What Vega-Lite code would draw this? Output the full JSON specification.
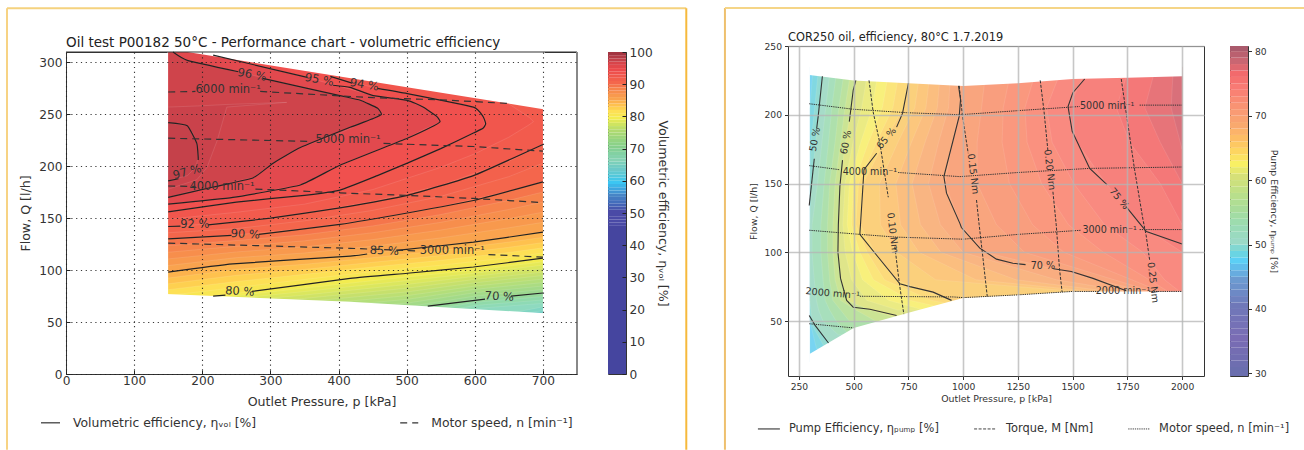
{"$schema":"https://vega.github.io/schema/vega-lite/v6.json","background":"white","padding":{"left":2,"top":3,"right":0,"bottom":0},"bounds":"flush","spacing":722,"resolve":{"scale":{"color":"independent"}},"config":{"font":"DejaVu Sans","view":{"stroke":"#333","strokeWidth":1}},
"datasets":{
"fillL":[{"l":64,"p":150,"q":40},{"l":64,"p":700,"q":40},
{"l":65,"p":150,"q":50},{"l":65,"p":600,"q":50},{"l":65,"p":700,"q":61},
{"l":66,"p":150,"q":50},{"l":66,"p":600,"q":52},{"l":66,"p":700,"q":64.6},
{"l":67,"p":150,"q":50},{"l":67,"p":500,"q":50},{"l":67,"p":600,"q":63},{"l":67,"p":700,"q":68},
{"l":68,"p":150,"q":50},{"l":68,"p":500,"q":54},{"l":68,"p":600,"q":66},{"l":68,"p":700,"q":71.3},
{"l":69,"p":150,"q":50},{"l":69,"p":350,"q":50},{"l":69,"p":500,"q":57.4},{"l":69,"p":600,"q":69},{"l":69,"p":700,"q":74.6},
{"l":70,"p":150,"q":50},{"l":70,"p":350,"q":53},{"l":70,"p":500,"q":61},{"l":70,"p":530,"q":65},{"l":70,"p":600,"q":72},{"l":70,"p":700,"q":78},
{"l":71,"p":150,"q":55},{"l":71,"p":350,"q":56},{"l":71,"p":500,"q":64.6},{"l":71,"p":600,"q":75},{"l":71,"p":700,"q":81.4},
{"l":72,"p":150,"q":55},{"l":72,"p":350,"q":60},{"l":72,"p":500,"q":68.2},{"l":72,"p":600,"q":78.3},{"l":72,"p":700,"q":84.7},
{"l":73,"p":150,"q":58},{"l":73,"p":350,"q":63},{"l":73,"p":500,"q":71.8},{"l":73,"p":600,"q":81.5},{"l":73,"p":700,"q":88},
{"l":74,"p":150,"q":58},{"l":74,"p":350,"q":66},{"l":74,"p":500,"q":75.4},{"l":74,"p":600,"q":84.6},{"l":74,"p":700,"q":91.4},
{"l":75,"p":150,"q":60},{"l":75,"p":350,"q":69.5},{"l":75,"p":500,"q":79},{"l":75,"p":600,"q":87.8},{"l":75,"p":700,"q":94.8},
{"l":76,"p":150,"q":62},{"l":76,"p":350,"q":72.8},{"l":76,"p":500,"q":82.6},{"l":76,"p":600,"q":91},{"l":76,"p":700,"q":98},
{"l":77,"p":150,"q":64},{"l":77,"p":350,"q":76},{"l":77,"p":500,"q":86.2},{"l":77,"p":600,"q":94},{"l":77,"p":700,"q":101.5},
{"l":78,"p":150,"q":66},{"l":78,"p":350,"q":79.4},{"l":78,"p":500,"q":89.8},{"l":78,"p":600,"q":97},{"l":78,"p":700,"q":104.8},
{"l":79,"p":150,"q":68},{"l":79,"p":350,"q":82.7},{"l":79,"p":500,"q":93.4},{"l":79,"p":600,"q":100},{"l":79,"p":700,"q":108},
{"l":80,"p":150,"q":70},{"l":80,"p":250,"q":77.5},{"l":80,"p":350,"q":86},{"l":80,"p":450,"q":94},{"l":80,"p":550,"q":100},{"l":80,"p":650,"q":107},{"l":80,"p":700,"q":111.5},
{"l":81,"p":150,"q":75.6},{"l":81,"p":250,"q":83.3},{"l":81,"p":350,"q":91},{"l":81,"p":450,"q":98.5},{"l":81,"p":550,"q":104.7},{"l":81,"p":650,"q":112},{"l":81,"p":700,"q":116.5},
{"l":82,"p":150,"q":81.2},{"l":82,"p":250,"q":89},{"l":82,"p":350,"q":96},{"l":82,"p":450,"q":103},{"l":82,"p":550,"q":109.4},{"l":82,"p":650,"q":117},{"l":82,"p":700,"q":121.5},
{"l":83,"p":150,"q":86.8},{"l":83,"p":250,"q":95},{"l":83,"p":350,"q":100.7},{"l":83,"p":450,"q":107.5},{"l":83,"p":550,"q":114},{"l":83,"p":650,"q":122},{"l":83,"p":700,"q":126.5},
{"l":84,"p":150,"q":92.4},{"l":84,"p":250,"q":100.7},{"l":84,"p":350,"q":105.6},{"l":84,"p":450,"q":112},{"l":84,"p":550,"q":118.8},{"l":84,"p":650,"q":127},{"l":84,"p":700,"q":131.5},
{"l":85,"p":150,"q":98},{"l":85,"p":250,"q":106.5},{"l":85,"p":350,"q":110.6},{"l":85,"p":450,"q":116.4},{"l":85,"p":550,"q":123.5},{"l":85,"p":650,"q":132},{"l":85,"p":700,"q":136.5},
{"l":86,"p":150,"q":104.4},{"l":86,"p":250,"q":112},{"l":86,"p":350,"q":116.5},{"l":86,"p":450,"q":123},{"l":86,"p":550,"q":131},{"l":86,"p":650,"q":140.8},{"l":86,"p":700,"q":146},
{"l":87,"p":150,"q":110.8},{"l":87,"p":250,"q":117.5},{"l":87,"p":350,"q":122.4},{"l":87,"p":450,"q":129.4},{"l":87,"p":550,"q":138.6},{"l":87,"p":650,"q":149.6},{"l":87,"p":700,"q":155.8},
{"l":88,"p":150,"q":117.2},{"l":88,"p":250,"q":123},{"l":88,"p":350,"q":128.2},{"l":88,"p":450,"q":136},{"l":88,"p":550,"q":146},{"l":88,"p":650,"q":158.4},{"l":88,"p":700,"q":165.5},
{"l":89,"p":150,"q":123.6},{"l":89,"p":250,"q":128.5},{"l":89,"p":350,"q":134},{"l":89,"p":450,"q":142.5},{"l":89,"p":550,"q":153.5},{"l":89,"p":650,"q":167.2},{"l":89,"p":700,"q":175.2},
{"l":90,"p":150,"q":130},{"l":90,"p":250,"q":134},{"l":90,"p":350,"q":140},{"l":90,"p":450,"q":149},{"l":90,"p":550,"q":161},{"l":90,"p":650,"q":176},{"l":90,"p":700,"q":185},
{"l":91,"p":150,"q":136},{"l":91,"p":250,"q":140},{"l":91,"p":350,"q":147.5},{"l":91,"p":450,"q":157.5},{"l":91,"p":550,"q":171},{"l":91,"p":650,"q":190},{"l":91,"p":700,"q":203},
{"l":92,"p":150,"q":142},{"l":92,"p":250,"q":146},{"l":92,"p":350,"q":155},{"l":92,"p":450,"q":166},{"l":92,"p":550,"q":181.5},{"l":92,"p":650,"q":205},{"l":92,"p":700,"q":221}],
"lensL":[{"l":93,"p":150,"q":149,"hi":320},{"l":93,"p":250,"q":155.7,"hi":320},{"l":93,"p":350,"q":163.5,"hi":320},{"l":93,"p":450,"q":177.5,"hi":320},{"l":93,"p":550,"q":199,"hi":320},{"l":93,"p":600,"q":212,"hi":285},{"l":93,"p":650,"q":228,"hi":260},{"l":93,"p":680,"q":240,"hi":247},{"l":93,"p":686,"q":243,"hi":243},
{"l":94,"p":150,"q":156,"hi":320},{"l":94,"p":250,"q":165.5,"hi":320},{"l":94,"p":350,"q":172,"hi":320},{"l":94,"p":385,"q":174.5,"hi":288},{"l":94,"p":402,"q":177,"hi":284},{"l":94,"p":457,"q":191,"hi":275},{"l":94,"p":501,"q":203,"hi":270},{"l":94,"p":550,"q":217,"hi":264},{"l":94,"p":598,"q":232,"hi":257},{"l":94,"p":612,"q":236.5,"hi":248},{"l":94,"p":614.5,"q":241,"hi":241},
{"l":95,"p":150,"q":163.5,"hi":320},{"l":95,"p":216,"q":168,"hi":307},{"l":95,"p":245,"q":170,"hi":303},{"l":95,"p":344,"q":182,"hi":287},{"l":95,"p":402,"q":201,"hi":277},{"l":95,"p":451,"q":214,"hi":268},{"l":95,"p":501,"q":227,"hi":263.5},{"l":95,"p":524,"q":235,"hi":257},{"l":95,"p":545,"q":241,"hi":247},{"l":95,"p":548,"q":243,"hi":243},
{"l":96,"p":150,"q":170,"hi":320},{"l":96,"p":157,"q":171,"hi":310},{"l":96,"p":178,"q":175,"hi":302},{"l":96,"p":216,"q":180,"hi":296},{"l":96,"p":253,"q":186,"hi":291},{"l":96,"p":275,"q":189,"hi":287.5},{"l":96,"p":304,"q":203,"hi":282.5},{"l":96,"p":344,"q":218,"hi":276},{"l":96,"p":402,"q":232,"hi":268},{"l":96,"p":432,"q":241,"hi":263.5},{"l":96,"p":451,"q":246,"hi":258.5},{"l":96,"p":457,"q":248,"hi":256},{"l":96,"p":463,"q":250,"hi":250},
{"l":96.5,"p":150,"q":178,"hi":257},{"l":96.5,"p":192,"q":187,"hi":258},{"l":96.5,"p":207,"q":199,"hi":258.5},{"l":96.5,"p":222,"q":225,"hi":259},{"l":96.5,"p":236,"q":257,"hi":259.5},{"l":96.5,"p":324,"q":261.5,"hi":261.5},
{"l":97,"p":150,"q":186,"hi":242},{"l":97,"p":178,"q":191,"hi":239},{"l":97,"p":186,"q":196,"hi":232},{"l":97,"p":192,"q":203,"hi":222},{"l":97,"p":194,"q":209,"hi":209}],
"contL":[{"s":"70a","p":531,"q":65.4},{"s":"70a","p":615,"q":72},{"s":"70b","p":653,"q":75},{"s":"70b","p":700,"q":78},
{"s":"80a","p":216,"q":75},{"s":"80a","p":234,"q":76},{"s":"80b","p":273,"q":79.5},{"s":"80b","p":417,"q":92},{"s":"80b","p":501,"q":97},{"s":"80b","p":598,"q":103},{"s":"80b","p":700,"q":111.5},
{"s":"85a","p":150,"q":98},{"s":"85a","p":245,"q":106},{"s":"85a","p":417,"q":113.5},{"s":"85a","p":442,"q":115.5},{"s":"85b","p":486,"q":119},{"s":"85b","p":598,"q":127},{"s":"85b","p":700,"q":136.5},
{"s":"90a","p":150,"q":130},{"s":"90a","p":243,"q":133.5},{"s":"90b","p":283,"q":134.5},{"s":"90b","p":402,"q":144},{"s":"90b","p":501,"q":155},{"s":"90b","p":598,"q":167},{"s":"90b","p":700,"q":185},
{"s":"92a","p":150,"q":142},{"s":"92a","p":168,"q":142.3},{"s":"92b","p":208,"q":143.5},{"s":"92b","p":300,"q":150},{"s":"92b","p":402,"q":160},{"s":"92b","p":501,"q":172},{"s":"92b","p":598,"q":191},{"s":"92b","p":700,"q":221},
{"s":"94a","p":150,"q":156},{"s":"94a","p":250,"q":165.5},{"s":"94a","p":350,"q":172},{"s":"94a","p":402,"q":177},{"s":"94a","p":457,"q":191},{"s":"94a","p":501,"q":203},{"s":"94a","p":550,"q":217},{"s":"94a","p":598,"q":232},{"s":"94a","p":612,"q":236.5},{"s":"94a","p":616,"q":241},{"s":"94a","p":612,"q":248},{"s":"94a","p":598,"q":257},{"s":"94a","p":501,"q":270},{"s":"94a","p":457,"q":275},{"s":"94b","p":420,"q":280},{"s":"94b","p":388,"q":286.5},
{"s":"95a","p":150,"q":163.5},{"s":"95a","p":245,"q":170},{"s":"95a","p":344,"q":182},{"s":"95a","p":402,"q":201},{"s":"95a","p":501,"q":227},{"s":"95a","p":540,"q":239},{"s":"95a","p":549,"q":243},{"s":"95a","p":544,"q":248},{"s":"95a","p":524,"q":257},{"s":"95a","p":501,"q":263.5},{"s":"95a","p":451,"q":268},{"s":"95a","p":417,"q":276},{"s":"95a","p":392,"q":278},{"s":"95b","p":354,"q":285.6},{"s":"95b","p":216,"q":307},
{"s":"96a","p":150,"q":170},{"s":"96a","p":216,"q":180},{"s":"96a","p":275,"q":189},{"s":"96a","p":304,"q":203},{"s":"96a","p":344,"q":218},{"s":"96a","p":417,"q":237.5},{"s":"96a","p":451,"q":246},{"s":"96a","p":463,"q":250},{"s":"96a","p":457,"q":256},{"s":"96a","p":432,"q":263.5},{"s":"96a","p":402,"q":268},{"s":"96a","p":289,"q":284.6},{"s":"96b","p":253,"q":291},{"s":"96b","p":178,"q":302},{"s":"96b","p":157,"q":310},
{"s":"97a","p":150,"q":186},{"s":"97a","p":165,"q":188},{"s":"97b","p":194,"q":206},{"s":"97b","p":194,"q":209},{"s":"97b","p":192,"q":222},{"s":"97b","p":178,"q":239},{"s":"97b","p":150,"q":242}],
"speedL":[{"s":"6a","p":150,"q":271.5},{"s":"6a","p":190,"q":272},{"s":"6b","p":285,"q":272},{"s":"6b","p":451,"q":266},{"s":"6b","p":549,"q":264},{"s":"6b","p":648,"q":260.5},
{"s":"5a","p":150,"q":227},{"s":"5a","p":355,"q":224},{"s":"5b","p":466,"q":222},{"s":"5b","p":598,"q":219},{"s":"5b","p":700,"q":214.5},
{"s":"4a","p":150,"q":181},{"s":"4a","p":190,"q":180.5},{"s":"4b","p":278,"q":178},{"s":"4b","p":417,"q":174},{"s":"4b","p":501,"q":172},{"s":"4b","p":598,"q":169},{"s":"4b","p":700,"q":165},
{"s":"3a","p":150,"q":126},{"s":"3a","p":417,"q":121},{"s":"3a","p":515,"q":118.5},{"s":"3b","p":620,"q":115},{"s":"3b","p":700,"q":112.5}],
"fillR":[{"l":47,"p":300,"q":20},{"l":47,"p":300,"q":235},
{"l":48,"p":330,"q":30},{"l":48,"p":300,"q":50},{"l":48,"p":300,"q":205},{"l":48,"p":315,"q":235},
{"l":49,"p":370,"q":30},{"l":49,"p":300,"q":50},{"l":49,"p":300,"q":150},{"l":49,"p":305,"q":180},{"l":49,"p":322,"q":205},{"l":49,"p":340,"q":235},
{"l":50,"p":410,"q":30},{"l":50,"p":310,"q":50},{"l":50,"p":300,"q":65},{"l":50,"p":300,"q":120},{"l":50,"p":307,"q":150},{"l":50,"p":327,"q":180},{"l":50,"p":342,"q":205},{"l":50,"p":362,"q":235},
{"l":52,"p":430,"q":40},{"l":52,"p":360,"q":50},{"l":52,"p":340,"q":58},{"l":52,"p":330,"q":65},{"l":52,"p":320,"q":80},{"l":52,"p":310,"q":100},{"l":52,"p":310,"q":120},{"l":52,"p":335,"q":150},{"l":52,"p":355,"q":180},{"l":52,"p":372,"q":205},{"l":52,"p":395,"q":235},
{"l":54,"p":480,"q":40},{"l":54,"p":420,"q":50},{"l":54,"p":390,"q":58},{"l":54,"p":370,"q":65},{"l":54,"p":360,"q":80},{"l":54,"p":350,"q":100},{"l":54,"p":350,"q":120},{"l":54,"p":365,"q":150},{"l":54,"p":385,"q":180},{"l":54,"p":400,"q":205},{"l":54,"p":425,"q":235},
{"l":56,"p":480,"q":50},{"l":56,"p":440,"q":58},{"l":56,"p":405,"q":65},{"l":56,"p":390,"q":80},{"l":56,"p":380,"q":100},{"l":56,"p":380,"q":120},{"l":56,"p":390,"q":150},{"l":56,"p":415,"q":180},{"l":56,"p":432,"q":205},{"l":56,"p":460,"q":235},
{"l":58,"p":600,"q":50},{"l":58,"p":510,"q":58},{"l":58,"p":440,"q":65},{"l":58,"p":415,"q":80},{"l":58,"p":405,"q":100},{"l":58,"p":405,"q":120},{"l":58,"p":415,"q":150},{"l":58,"p":440,"q":180},{"l":58,"p":460,"q":205},{"l":58,"p":490,"q":235},
{"l":60,"p":750,"q":50},{"l":60,"p":574,"q":58},{"l":60,"p":468,"q":65},{"l":60,"p":441,"q":80},{"l":60,"p":428,"q":100},{"l":60,"p":430,"q":120},{"l":60,"p":438,"q":150},{"l":60,"p":462,"q":180},{"l":60,"p":488,"q":205},{"l":60,"p":520,"q":235},
{"l":61,"p":700,"q":58},{"l":61,"p":560,"q":65},{"l":61,"p":490,"q":80},{"l":61,"p":461,"q":100},{"l":61,"p":450,"q":120},{"l":61,"p":460,"q":150},{"l":61,"p":497,"q":180},{"l":61,"p":536,"q":205},{"l":61,"p":568,"q":235},
{"l":62,"p":820,"q":58},{"l":62,"p":660,"q":65},{"l":62,"p":540,"q":80},{"l":62,"p":495,"q":100},{"l":62,"p":470,"q":120},{"l":62,"p":480,"q":150},{"l":62,"p":532,"q":180},{"l":62,"p":584,"q":205},{"l":62,"p":616,"q":235},
{"l":63,"p":950,"q":58},{"l":63,"p":760,"q":65},{"l":63,"p":590,"q":80},{"l":63,"p":528,"q":100},{"l":63,"p":490,"q":120},{"l":63,"p":500,"q":150},{"l":63,"p":568,"q":180},{"l":63,"p":631,"q":205},{"l":63,"p":664,"q":235},
{"l":64,"p":1080,"q":58},{"l":64,"p":855,"q":65},{"l":64,"p":640,"q":80},{"l":64,"p":562,"q":100},{"l":64,"p":510,"q":120},{"l":64,"p":522,"q":150},{"l":64,"p":604,"q":180},{"l":64,"p":679,"q":205},{"l":64,"p":712,"q":235},
{"l":65,"p":1200,"q":58},{"l":65,"p":947,"q":65},{"l":65,"p":690,"q":80},{"l":65,"p":596,"q":100},{"l":65,"p":531,"q":120},{"l":65,"p":543,"q":150},{"l":65,"p":640,"q":180},{"l":65,"p":727,"q":205},{"l":65,"p":760,"q":235},
{"l":66,"p":2000,"q":65},{"l":66,"p":874,"q":80},{"l":66,"p":697,"q":100},{"l":66,"p":622,"q":120},{"l":66,"p":618,"q":150},{"l":66,"p":702,"q":180},{"l":66,"p":779,"q":205},{"l":66,"p":806,"q":235},
{"l":67,"p":2000,"q":65},{"l":67,"p":1058,"q":80},{"l":67,"p":798,"q":100},{"l":67,"p":714,"q":120},{"l":67,"p":693,"q":150},{"l":67,"p":764,"q":180},{"l":67,"p":830,"q":205},{"l":67,"p":852,"q":235},
{"l":68,"p":2000,"q":65},{"l":68,"p":1242,"q":80},{"l":68,"p":898,"q":100},{"l":68,"p":805,"q":120},{"l":68,"p":767,"q":150},{"l":68,"p":826,"q":180},{"l":68,"p":882,"q":205},{"l":68,"p":898,"q":235},
{"l":69,"p":2000,"q":65},{"l":69,"p":1426,"q":80},{"l":69,"p":999,"q":100},{"l":69,"p":896,"q":120},{"l":69,"p":842,"q":150},{"l":69,"p":888,"q":180},{"l":69,"p":933,"q":205},{"l":69,"p":944,"q":235},
{"l":70,"p":2000,"q":65},{"l":70,"p":1610,"q":80},{"l":70,"p":1100,"q":100},{"l":70,"p":988,"q":120},{"l":70,"p":917,"q":150},{"l":70,"p":950,"q":180},{"l":70,"p":985,"q":205},{"l":70,"p":990,"q":235},
{"l":71,"p":2000,"q":65},{"l":71,"p":1690,"q":80},{"l":71,"p":1280,"q":100},{"l":71,"p":1152,"q":120},{"l":71,"p":1064,"q":150},{"l":71,"p":1064,"q":180},{"l":71,"p":1084,"q":205},{"l":71,"p":1106,"q":235},
{"l":72,"p":2000,"q":65},{"l":72,"p":1770,"q":80},{"l":72,"p":1460,"q":100},{"l":72,"p":1317,"q":120},{"l":72,"p":1211,"q":150},{"l":72,"p":1178,"q":180},{"l":72,"p":1183,"q":205},{"l":72,"p":1222,"q":235},
{"l":73,"p":2000,"q":65},{"l":73,"p":1850,"q":80},{"l":73,"p":1640,"q":100},{"l":73,"p":1481,"q":120},{"l":73,"p":1358,"q":150},{"l":73,"p":1292,"q":180},{"l":73,"p":1282,"q":205},{"l":73,"p":1338,"q":235},
{"l":74,"p":2000,"q":70},{"l":74,"p":1920,"q":80},{"l":74,"p":1820,"q":100},{"l":74,"p":1646,"q":120},{"l":74,"p":1505,"q":150},{"l":74,"p":1406,"q":180},{"l":74,"p":1381,"q":205},{"l":74,"p":1454,"q":235},
{"l":75,"p":2000,"q":100},{"l":75,"p":1810,"q":120},{"l":75,"p":1652,"q":150},{"l":75,"p":1520,"q":180},{"l":75,"p":1480,"q":205},{"l":75,"p":1570,"q":235},
{"l":76,"p":2000,"q":120},{"l":76,"p":1900,"q":150},{"l":76,"p":1760,"q":180},{"l":76,"p":1700,"q":205},{"l":76,"p":1760,"q":235},
{"l":77,"p":2000,"q":150},{"l":77,"p":1900,"q":180},{"l":77,"p":1830,"q":205},{"l":77,"p":1880,"q":235},
{"l":78,"p":2000,"q":175},{"l":78,"p":1950,"q":205},{"l":78,"p":1960,"q":235}],
"contR":[{"s":"50a","p":357,"q":228},{"s":"50a","p":338,"q":199},{"s":"50a","p":331,"q":190},{"s":"50b","p":320,"q":168},{"s":"50b","p":297,"q":134},{"s":"50c","p":297,"q":54},{"s":"50c","p":323,"q":47},{"s":"50c","p":385,"q":34},
{"s":"60a","p":510,"q":225},{"s":"60a","p":498,"q":218},{"s":"60a","p":480,"q":195},{"s":"60b","p":449,"q":167},{"s":"60b","p":437,"q":148},{"s":"60b","p":430,"q":120},{"s":"60b","p":428,"q":100},{"s":"60b","p":440,"q":81},{"s":"60b","p":468,"q":65},{"s":"60b","p":498,"q":60},{"s":"60b","p":574,"q":58.5},{"s":"60b","p":696,"q":54},
{"s":"65a","p":750,"q":223},{"s":"65a","p":723,"q":201},{"s":"65a","p":696,"q":191},{"s":"65b","p":605,"q":172},{"s":"65b","p":547,"q":160},{"s":"65b","p":531,"q":120},{"s":"65b","p":528,"q":113},{"s":"65b","p":604,"q":98},{"s":"65b","p":711,"q":77},{"s":"65b","p":757,"q":75},{"s":"65b","p":863,"q":71},{"s":"65b","p":947,"q":65},
{"s":"70a","p":979,"q":221},{"s":"70a","p":988,"q":211},{"s":"70a","p":982,"q":199},{"s":"70a","p":955,"q":182},{"s":"70a","p":912,"q":155},{"s":"70a","p":924,"q":143},{"s":"70a","p":985,"q":121},{"s":"70a","p":992,"q":118},{"s":"70a","p":1076,"q":103},{"s":"70a","p":1152,"q":95},{"s":"70a","p":1227,"q":92},{"s":"70a","p":1285,"q":91},{"s":"70b","p":1412,"q":88},{"s":"70b","p":1494,"q":86},{"s":"70b","p":1593,"q":81},{"s":"70b","p":1745,"q":72},
{"s":"75a","p":1555,"q":226},{"s":"75a","p":1501,"q":216},{"s":"75a","p":1479,"q":206},{"s":"75a","p":1498,"q":188},{"s":"75a","p":1578,"q":161},{"s":"75a","p":1658,"q":149},{"s":"75b","p":1745,"q":133},{"s":"75b","p":1806,"q":121},{"s":"75b","p":1837,"q":115},{"s":"75b","p":2000,"q":106}],
"torqueR":[{"s":"10a","p":570,"q":225},{"s":"10a","p":589,"q":202},{"s":"10a","p":620,"q":179},{"s":"10a","p":658,"q":140},{"s":"10b","p":688,"q":104},{"s":"10b","p":708,"q":78},{"s":"10b","p":729,"q":55},
{"s":"15a","p":982,"q":221},{"s":"15a","p":997,"q":199},{"s":"15a","p":1023,"q":172},{"s":"15b","p":1061,"q":138},{"s":"15b","p":1073,"q":120},{"s":"15b","p":1091,"q":95},{"s":"15b","p":1110,"q":68},
{"s":"20a","p":1352,"q":225},{"s":"20a","p":1369,"q":203},{"s":"20a","p":1387,"q":174},{"s":"20b","p":1410,"q":144},{"s":"20b","p":1425,"q":120},{"s":"20b","p":1440,"q":88},{"s":"20b","p":1452,"q":71},
{"s":"25a","p":1722,"q":226},{"s":"25a","p":1745,"q":201},{"s":"25a","p":1783,"q":160},{"s":"25a","p":1821,"q":124},{"s":"25a","p":1836,"q":112},{"s":"25a","p":1852,"q":94}],
"speedR":[{"s":"5a","p":297,"q":208},{"s":"5a","p":498,"q":204},{"s":"5a","p":742,"q":201.5},{"s":"5a","p":985,"q":200},{"s":"5a","p":1251,"q":203},{"s":"5a","p":1532,"q":206},{"s":"5b","p":1806,"q":207},{"s":"5b","p":2000,"q":207},
{"s":"4a","p":297,"q":163},{"s":"4a","p":437,"q":160},{"s":"4b","p":703,"q":158},{"s":"4b","p":985,"q":155},{"s":"4b","p":1251,"q":158},{"s":"4b","p":1578,"q":161},{"s":"4b","p":2000,"q":162},
{"s":"3a","p":297,"q":116},{"s":"3a","p":528,"q":113},{"s":"3a","p":696,"q":111},{"s":"3a","p":1000,"q":109.5},{"s":"3a","p":1251,"q":113},{"s":"3a","p":1540,"q":116},{"s":"3b","p":1806,"q":116.5},{"s":"3b","p":2000,"q":116.5},
{"s":"2a","p":528,"q":68},{"s":"2a","p":955,"q":67.5},{"s":"2a","p":1000,"q":67},{"s":"2a","p":1250,"q":69},{"s":"2a","p":1500,"q":71.5},{"s":"2a","p":1620,"q":71.5},{"s":"2b","p":1850,"q":71.5},{"s":"2b","p":2000,"q":71.5},
{"s":"1a","p":297,"q":48},{"s":"1a","p":498,"q":45}],
"barL":[{"v":0,"v2":46},{"v":46,"v2":47},{"v":47,"v2":48},{"v":48,"v2":49},{"v":49,"v2":50},{"v":50,"v2":51},{"v":51,"v2":52},{"v":52,"v2":53},{"v":53,"v2":54},{"v":54,"v2":55},{"v":55,"v2":56},{"v":56,"v2":57},{"v":57,"v2":58},{"v":58,"v2":59},{"v":59,"v2":60},{"v":60,"v2":61},{"v":61,"v2":62},{"v":62,"v2":63},{"v":63,"v2":64},{"v":64,"v2":65},{"v":65,"v2":66},{"v":66,"v2":67},{"v":67,"v2":68},{"v":68,"v2":69},{"v":69,"v2":70},{"v":70,"v2":71},{"v":71,"v2":72},{"v":72,"v2":73},{"v":73,"v2":74},{"v":74,"v2":75},{"v":75,"v2":76},{"v":76,"v2":77},{"v":77,"v2":78},{"v":78,"v2":79},{"v":79,"v2":80},{"v":80,"v2":81},{"v":81,"v2":82},{"v":82,"v2":83},{"v":83,"v2":84},{"v":84,"v2":85},{"v":85,"v2":86},{"v":86,"v2":87},{"v":87,"v2":88},{"v":88,"v2":89},{"v":89,"v2":90},{"v":90,"v2":91},{"v":91,"v2":92},{"v":92,"v2":93},{"v":93,"v2":94},{"v":94,"v2":95},{"v":95,"v2":96},{"v":96,"v2":97},{"v":97,"v2":98},{"v":98,"v2":99},{"v":99,"v2":100}],
"barR":[{"v":29.6,"v2":31},{"v":31,"v2":32},{"v":32,"v2":33},{"v":33,"v2":34},{"v":34,"v2":35},{"v":35,"v2":36},{"v":36,"v2":37},{"v":37,"v2":38},{"v":38,"v2":39},{"v":39,"v2":40},{"v":40,"v2":41},{"v":41,"v2":42},{"v":42,"v2":43},{"v":43,"v2":44},{"v":44,"v2":45},{"v":45,"v2":46},{"v":46,"v2":47},{"v":47,"v2":48},{"v":48,"v2":49},{"v":49,"v2":50},{"v":50,"v2":51},{"v":51,"v2":52},{"v":52,"v2":53},{"v":53,"v2":54},{"v":54,"v2":55},{"v":55,"v2":56},{"v":56,"v2":57},{"v":57,"v2":58},{"v":58,"v2":59},{"v":59,"v2":60},{"v":60,"v2":61},{"v":61,"v2":62},{"v":62,"v2":63},{"v":63,"v2":64},{"v":64,"v2":65},{"v":65,"v2":66},{"v":66,"v2":67},{"v":67,"v2":68},{"v":68,"v2":69},{"v":69,"v2":70},{"v":70,"v2":71},{"v":71,"v2":72},{"v":72,"v2":73},{"v":73,"v2":74},{"v":74,"v2":75},{"v":75,"v2":76},{"v":76,"v2":77},{"v":77,"v2":78},{"v":78,"v2":79},{"v":79,"v2":80},{"v":80,"v2":80.8}]
},
"hconcat":[
{"bounds":"flush","spacing":0,"vconcat":[
{"width":560,"height":6,"view":{"stroke":null},"data":{"values":[{}]},"mark":{"type":"point","opacity":0},"encoding":{}},
{"bounds":"flush","spacing":31,"resolve":{"scale":{"color":"independent"}},"hconcat":[
{"width":511,"height":322,
"encoding":{"x":{"field":"p","type":"quantitative","scale":{"domain":[0,750],"nice":false},"axis":{"values":[0,100,200,300,400,500,600,700],"title":"Outlet Pressure, p [kPa]","titleFontSize":12.6,"titleFontWeight":"normal","titleColor":"#333","titlePadding":9,"labelFontSize":12.2,"labelColor":"#333","labelPadding":4,"labelFlush":false,"tickSize":-4,"tickColor":"#222","domain":false,"grid":true,"gridColor":"#222","gridDash":[1.2,3.6],"gridWidth":1.1,"gridOpacity":0.9,"zindex":1}},
"y":{"field":"q","type":"quantitative","scale":{"domain":[0,310],"nice":false},"axis":{"values":[0,50,100,150,200,250,300],"title":"Flow, Q [l/h]","titleFontSize":12.6,"titleFontWeight":"normal","titleColor":"#333","titlePadding":6,"labelFontSize":12.2,"labelColor":"#333","labelPadding":8,"tickSize":-4,"tickColor":"#222","domain":false,"grid":true,"gridColor":"#222","gridDash":[1.2,3.6],"gridWidth":1.1,"gridOpacity":0.9,"zindex":1}}},
"layer":[
{"data":{"name":"fillL"},"mark":{"type":"area","clip":true,"stroke":"white","strokeOpacity":0.22,"strokeWidth":0.5},"encoding":{"y2":{"datum":320},"detail":{"field":"l"},"color":{"field":"l","type":"quantitative","legend":null,"scale":{"domain":[0,50,55,59,63,66,70,75,79,81,85,88,90,94,95,96,97,100],"range":["#45459f","#4a4aa6","#4785c6","#3cc6f2","#6cc9c9","#8edabf","#9dd88f","#c6e06c","#f2ec50","#fde055","#f9a34e","#f6844c","#f4664c","#f0504e","#e2494e","#cf444b","#c5414a","#93303c"]}}}},
{"data":{"name":"lensL"},"mark":{"type":"area","clip":true,"stroke":"white","strokeOpacity":0.22,"strokeWidth":0.5},"encoding":{"y2":{"field":"hi"},"detail":{"field":"l"},"color":{"field":"l","type":"quantitative","legend":null,"scale":{"domain":[0,50,55,59,63,66,70,75,79,81,85,88,90,94,95,96,97,100],"range":["#45459f","#4a4aa6","#4785c6","#3cc6f2","#6cc9c9","#8edabf","#9dd88f","#c6e06c","#f2ec50","#fde055","#f9a34e","#f6844c","#f4664c","#f0504e","#e2494e","#cf444b","#c5414a","#93303c"]}}}},
{"data":{"values":[{"p":147,"q":313.3},{"p":703,"q":254.7}]},"mark":{"type":"area","fill":"white","clip":true},"encoding":{"y2":{"datum":330}}},
{"data":{"values":[{"p":147,"q":77},{"p":417,"q":69.5},{"p":703,"q":58.5}]},"mark":{"type":"area","fill":"white","clip":true},"encoding":{"y2":{"datum":30}}},
{"data":{"values":[{"p":0,"q":310},{"p":750,"q":310}]},"mark":{"type":"line","stroke":"#333","strokeWidth":1}},
{"data":{"name":"contL"},"mark":{"type":"line","stroke":"#222","strokeWidth":1.2,"interpolate":"cardinal","tension":0.6},"encoding":{"detail":{"field":"s"},"order":{"value":null}}},
{"data":{"name":"speedL"},"mark":{"type":"line","stroke":"#333","strokeWidth":1.2,"strokeDash":[7,5]},"encoding":{"detail":{"field":"s"}}},
{"data":{"values":[{"label":"6000 min⁻¹","p":238,"q":273},{"label":"5000 min⁻¹","p":414,"q":225},{"label":"4000 min⁻¹","p":229,"q":180},{"label":"3000 min⁻¹","p":567,"q":118},{"label":"92 %","p":189,"q":143}]},"mark":{"type":"text","fontSize":11.5,"fill":"#333","font":"DejaVu Sans"},"encoding":{"text":{"field":"label"}}},
{"data":{"values":[{"label":"96 %","p":273,"q":287.5},{"label":"95 %","p":371.5,"q":282.7},{"label":"94 %","p":437.6,"q":278}]},"mark":{"type":"text","fontSize":11.5,"fill":"#333","angle":10},"encoding":{"text":{"field":"label"}}},
{"data":{"values":[{"label":"97 %","p":178,"q":194}]},"mark":{"type":"text","fontSize":11.5,"fill":"#333","angle":-15},"encoding":{"text":{"field":"label"}}},
{"data":{"values":[{"label":"90 %","p":263,"q":134},{"label":"85 %","p":467,"q":118},{"label":"80 %","p":255,"q":79},{"label":"70 %","p":636,"q":74}]},"mark":{"type":"text","fontSize":11.5,"fill":"#333","angle":3},"encoding":{"text":{"field":"label"}}},
{"data":{"values":[{"p":750,"q":0},{"p":750,"q":310}]},"mark":{"type":"line","stroke":"#888","strokeWidth":2},"encoding":{"order":{"value":null}}},
{"data":{"values":[{"p":-86.6,"q":-73},{"p":-86.6,"q":352}]},"mark":{"type":"line","stroke":"#f7d384","strokeWidth":2},"encoding":{"order":{"value":null}}},
{"data":{"values":[{"p":-86.6,"q":352},{"p":910.4,"q":352}]},"mark":{"type":"line","stroke":"#f5d27e","strokeWidth":2},"encoding":{"order":{"value":null}}},
{"data":{"values":[{"p":910.4,"q":352},{"p":910.4,"q":-73}]},"mark":{"type":"line","stroke":"#f6b93c","strokeWidth":2},"encoding":{"order":{"value":null}}},
{"data":{"values":[{"p":-36.7,"q":-47},{"p":-8.8,"q":-47}]},"mark":{"type":"line","stroke":"#333","strokeWidth":1.2}},
{"data":{"values":[{"p":490.5,"q":-47},{"p":517,"q":-47}]},"mark":{"type":"line","stroke":"#333","strokeWidth":1.2,"strokeDash":[7,5]}},
{"data":{"values":[{"label":"Volumetric efficiency, ηᵥₒₗ [%]","p":10.3,"q":-47},{"label":"Motor speed, n [min⁻¹]","p":536,"q":-47}]},"mark":{"type":"text","fontSize":12.4,"fill":"#333","align":"left"},"encoding":{"text":{"field":"label"}}},
{"data":{"values":[{"label":"Oil test P00182 50°C - Performance chart - volumetric efficiency","p":0,"q":319}]},"mark":{"type":"text","fontSize":13.5,"fill":"#222","align":"left"},"encoding":{"text":{"field":"label"}}}
]},
{"width":18,"height":322,"data":{"name":"barL"},"mark":{"type":"rect","strokeWidth":0},"encoding":{"y":{"field":"v","type":"quantitative","scale":{"domain":[0,100],"nice":false},"axis":{"orient":"right","values":[0,10,20,30,40,50,60,70,80,90,100],"title":"Volumetric efficiency, ηᵥₒₗ [%]","titleFontSize":12.6,"titleFontWeight":"normal","titleColor":"#333","titlePadding":3,"labelFontSize":12.2,"labelColor":"#333","labelPadding":7,"tickSize":-4,"tickColor":"#222","domain":false,"grid":false,"zindex":1}},"y2":{"field":"v2"},"color":{"field":"v","type":"quantitative","legend":null,"scale":{"domain":[0,50,55,59,63,66,70,75,79,81,85,88,90,94,96,97,100],"range":["#45459f","#4a4aa6","#4785c6","#3cc6f2","#6cc9c9","#86d2b4","#85cf8c","#b0da70","#f2ec50","#fde055","#f9a34e","#f6844c","#f4664c","#ec4a4c","#d8444a","#c5414a","#93303c"]}}}}
]}
]},
{"bounds":"flush","spacing":26,"resolve":{"scale":{"color":"independent"}},"hconcat":[
{"width":416,"height":330,
"encoding":{"x":{"field":"p","type":"quantitative","scale":{"domain":[200,2100],"nice":false},"axis":{"values":[250,500,750,1000,1250,1500,1750,2000],"format":"d","title":"Outlet Pressure, p [kPa]","titleFontSize":9.4,"titleFontWeight":"normal","titleColor":"#333","titlePadding":3,"labelFontSize":9.2,"labelColor":"#333","labelPadding":3,"tickSize":3.5,"tickColor":"#333","domain":false,"grid":true,"gridColor":"#b4b4b4","gridWidth":1.6,"gridOpacity":0.75,"zindex":1}},
"y":{"field":"q","type":"quantitative","scale":{"domain":[10,250],"nice":false},"axis":{"values":[50,100,150,200,250],"title":"Flow, Q [l/h]","titleFontSize":9.4,"titleFontWeight":"normal","titleColor":"#333","titlePadding":5,"labelFontSize":9.2,"labelColor":"#333","labelPadding":3,"tickSize":3.5,"tickColor":"#333","domain":false,"grid":true,"gridColor":"#b4b4b4","gridWidth":1.6,"gridOpacity":0.75,"zindex":1}}},
"layer":[
{"data":{"name":"fillR"},"mark":{"type":"area","stroke":"white","strokeOpacity":0.2,"strokeWidth":0.5},"encoding":{"x2":{"datum":2000},"detail":{"field":"l"},"color":{"field":"l","type":"quantitative","legend":null,"scale":{"domain":[29.6,35,40,44,47,50,55,60,62,65,68,70,74,76,78,80,81],"range":["#6a6eae","#7a6cb4","#6f78b8","#6c9ad0","#78d4f2","#a6dcc8","#b4e0a4","#dfe58a","#f8f07c","#fbd07c","#f9b582","#f9a57e","#f98a80","#f47878","#d9707a","#aa5a6c","#9c4f60"]}}}},
{"data":{"values":[{"p":298,"q":229},{"p":500,"q":225},{"p":750,"q":223},{"p":1000,"q":221},{"p":1250,"q":223},{"p":1500,"q":226},{"p":1750,"q":227},{"p":2002,"q":228}]},"mark":{"type":"area","fill":"white"},"encoding":{"y2":{"datum":240}}},
{"data":{"values":[{"p":298,"q":26},{"p":500,"q":45},{"p":750,"q":56},{"p":1000,"q":66.7},{"p":1250,"q":69},{"p":1500,"q":71.5},{"p":2002,"q":71.5}]},"mark":{"type":"area","fill":"white"},"encoding":{"y2":{"datum":15}}},
{"data":{"name":"contR"},"mark":{"type":"line","stroke":"#333","strokeWidth":1.1},"encoding":{"detail":{"field":"s"},"order":{"value":null}}},
{"data":{"name":"torqueR"},"mark":{"type":"line","stroke":"#333","strokeWidth":1,"strokeDash":[3,1.5]},"encoding":{"detail":{"field":"s"},"order":{"value":null}}},
{"data":{"name":"speedR"},"mark":{"type":"line","stroke":"#333","strokeWidth":1,"strokeDash":[1.3,0.9]},"encoding":{"detail":{"field":"s"},"order":{"value":null}}},
{"data":{"values":[{"label":"5000 min⁻¹","p":1658,"q":206.5},{"label":"4000 min⁻¹","p":574,"q":158.6},{"label":"3000 min⁻¹","p":1669,"q":116},{"label":"2000 min⁻¹","p":1730,"q":72},{"label":"70 %","p":1364,"q":90}]},"mark":{"type":"text","fontSize":9.6,"fill":"#333"},"encoding":{"text":{"field":"label"}}},
{"data":{"values":[{"label":"2000 min⁻¹","p":404,"q":70}]},"mark":{"type":"text","fontSize":9.6,"fill":"#333","angle":5},"encoding":{"text":{"field":"label"}}},
{"data":{"values":[{"label":"50 %","p":323,"q":182},{"label":"60 %","p":465,"q":180}]},"mark":{"type":"text","fontSize":9.6,"fill":"#333","angle":-80},"encoding":{"text":{"field":"label"}}},
{"data":{"values":[{"label":"65 %","p":650,"q":183}]},"mark":{"type":"text","fontSize":9.6,"fill":"#333","angle":-50},"encoding":{"text":{"field":"label"}}},
{"data":{"values":[{"label":"75 %","p":1712,"q":139}]},"mark":{"type":"text","fontSize":9.6,"fill":"#333","angle":50},"encoding":{"text":{"field":"label"}}},
{"data":{"values":[{"label":"0.10 Nm","p":678,"q":114},{"label":"0.15 Nm","p":1046,"q":157},{"label":"0.20 Nm","p":1395,"q":160},{"label":"0.25 Nm","p":1867,"q":78}]},"mark":{"type":"text","fontSize":9.6,"fill":"#333","angle":83},"encoding":{"text":{"field":"label"}}},
{"data":{"values":[{"p":-88,"q":-43.6},{"p":-88,"q":277.6}]},"mark":{"type":"line","stroke":"#eec06e","strokeWidth":2},"encoding":{"order":{"value":null}}},
{"data":{"values":[{"p":-88,"q":277.6},{"p":2558,"q":277.6}]},"mark":{"type":"line","stroke":"#f5d587","strokeWidth":2},"encoding":{"order":{"value":null}}},
{"data":{"values":[{"p":62.6,"q":-28.5},{"p":163,"q":-28.5}]},"mark":{"type":"line","stroke":"#444","strokeWidth":1.2}},
{"data":{"values":[{"p":1050,"q":-28.5},{"p":1150,"q":-28.5}]},"mark":{"type":"line","stroke":"#444","strokeWidth":1,"strokeDash":[3,1.5]}},
{"data":{"values":[{"p":1754,"q":-28.5},{"p":1854,"q":-28.5}]},"mark":{"type":"line","stroke":"#444","strokeWidth":1,"strokeDash":[1.3,0.9]}},
{"data":{"values":[{"label":"Pump Efficiency, ηₚᵤₘₚ [%]","p":204,"q":-28.5},{"label":"Torque, M [Nm]","p":1196,"q":-28.5},{"label":"Motor speed, n [min⁻¹]","p":1895,"q":-28.5}]},"mark":{"type":"text","fontSize":11.4,"fill":"#333","align":"left"},"encoding":{"text":{"field":"label"}}},
{"data":{"values":[{"label":"COR250 oil, efficiency, 80°C 1.7.2019","p":200,"q":255.8}]},"mark":{"type":"text","fontSize":11.4,"fill":"#222","align":"left"},"encoding":{"text":{"field":"label"}}}
]},
{"width":18,"height":330,"data":{"name":"barR"},"mark":{"type":"rect","strokeWidth":0},"encoding":{"y":{"field":"v","type":"quantitative","scale":{"domain":[29.6,80.8],"nice":false},"axis":{"orient":"right","values":[30,40,50,60,70,80],"title":"Pump Efficiency, ηₚᵤₘₚ [%]","titleFontSize":9.4,"titleFontWeight":"normal","titleColor":"#333","titlePadding":2,"labelFontSize":9.2,"labelColor":"#333","labelPadding":3,"tickSize":3.5,"tickColor":"#333","domain":false,"grid":false}},"y2":{"field":"v2"},"color":{"field":"v","type":"quantitative","legend":null,"scale":{"domain":[29.6,35,40,44,47,50,55,60,62,65,68,70,74,76,78,80,81],"range":["#6a6eae","#7a6cb4","#6f78b8","#6c9ad0","#5ccff5","#9bd9c6","#a9dc9a","#d6e078","#f8f064","#fdc862","#f9a96e","#f99b74","#f87a74","#f26a6c","#c96672","#aa5a6c","#9c4f60"]}}}}
]}
]}
